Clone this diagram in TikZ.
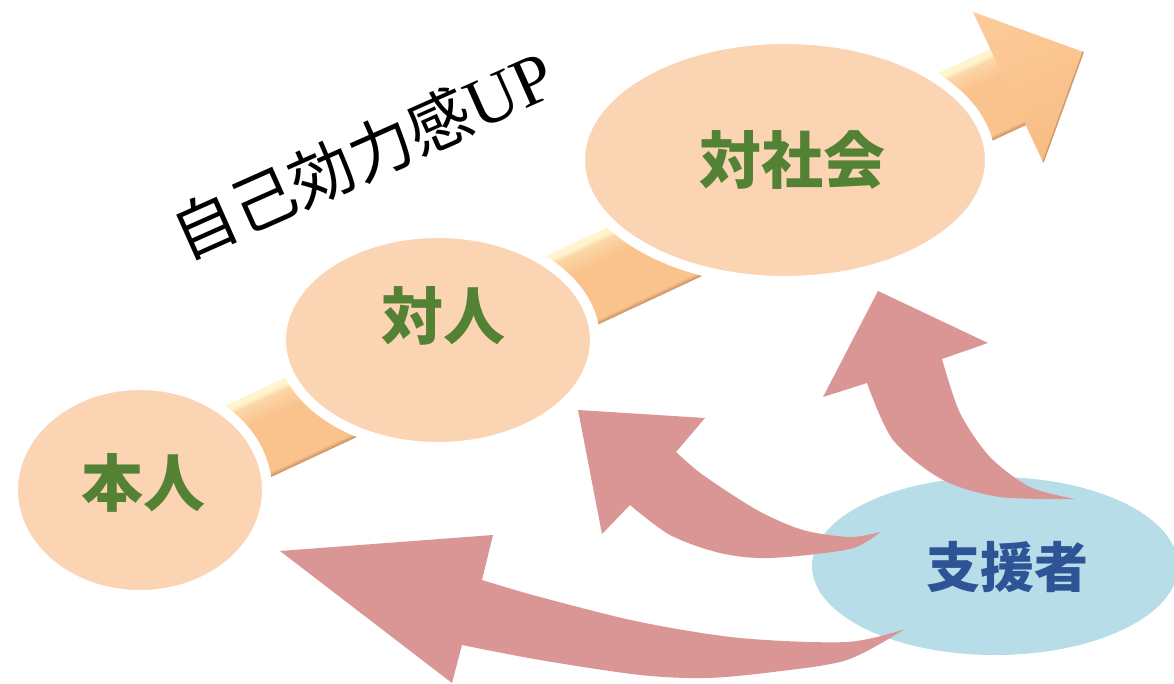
\documentclass[tikz,border=0pt]{standalone}
\usepackage{fontspec}
\newfontfamily\jp{Noto Sans CJK JP}
\newfontfamily\lser{Liberation Serif}
\usetikzlibrary{shapes.geometric}
\definecolor{peach}{HTML}{FBD4B4}
\definecolor{lblgreen}{HTML}{548235}
\definecolor{lblblue}{HTML}{2F5496}
\definecolor{suppblue}{HTML}{B7DDE8}
\definecolor{suppred}{HTML}{D99694}
\definecolor{bandDk}{HTML}{C08A5A}
\definecolor{bandMid}{HTML}{FAC38D}
\definecolor{bandLt}{HTML}{FCD6A6}
\definecolor{bandHi}{HTML}{FFF4CC}
\definecolor{headTop}{HTML}{FCCC9A}
\definecolor{headBot}{HTML}{F8BC84}
\pgfdeclareverticalshading{bandshade}{100bp}{color(0bp)=(bandDk); color(25bp)=(bandDk); color(28bp)=(bandMid); color(58bp)=(bandMid); color(69bp)=(bandLt); color(72bp)=(bandHi); color(75bp)=(bandHi); color(100bp)=(bandHi)}
\begin{document}
\begin{tikzpicture}[x=1pt,y=-1pt,
  peachell/.style={ellipse, fill=peach, draw=white, line width=10pt, inner sep=0pt},
  greenlbl/.style={text=lblgreen, font=\jp\bfseries\fontsize{62}{62}\selectfont, inner sep=0pt},
  bluelbl/.style={text=lblblue, font=\jp\bfseries\fontsize{54}{54}\selectfont, inner sep=0pt},
  supp/.style={fill=suppred},
]
\useasboundingbox (0,0) rectangle (1174,684);
\clip (0,0) rectangle (1174,684);
% big orange arrow
\begin{scope}[transform canvas={shift={(1008pt,-87pt)},rotate=25}]
  \shade[shading=bandshade] (-960pt,-42pt) rectangle (1pt,42pt);
  \shade[top color=headTop, bottom color=headBot] (0pt,83pt) -- (83pt,0pt) -- (0pt,-83pt) -- cycle;
  \draw[bandDk!70!bandMid, line width=1.5pt, line join=round] (0pt,-83pt) -- (83pt,0pt);
\end{scope}
% stage ellipses
\node[peachell, minimum width=254pt, minimum height=210pt] (honnin) at (140,490) {};
\node[peachell, minimum width=314pt, minimum height=214pt] (taijin) at (438,340) {};
\node[peachell, minimum width=410pt, minimum height=242pt] (taishakai) at (785,160) {};
\node[greenlbl] (lhonnin) at (143,483) {本人};
\node[greenlbl] (ltaijin) at (443,316) {対人};
\node[greenlbl] (ltaishakai) at (792,160) {対社会};
% title
\node[rotate=24, inner sep=0pt] (title) at (363,155) {\jp\fontsize{64}{64}\selectfont 自己効力感\lser\fontsize{70}{70}\selectfont UP};
% supporter
\node[ellipse, fill=suppblue, minimum width=366pt, minimum height=178pt, inner sep=0pt] (shien) at (995,566) {};
% red curved arrows
\fill[supp] (280,551) -- (493,535) -- (482,580)
  -- plot[smooth] coordinates {(482,580) (540,597) (640,622) (740,638) (847,642) (905,629)}
  -- plot[smooth] coordinates {(905,629) (847,660) (773,672) (707,678) (640,675) (540,660) (462,645)}
  -- (452,683) -- cycle;
\fill[supp] (578,410) -- (705,418) -- (676,452)
  -- plot[smooth] coordinates {(676,452) (703,475) (757,510) (803,530) (850,537) (880,532)}
  -- plot[smooth] coordinates {(880,532) (850,549) (770,558) (720,553) (670,535) (630,505)}
  -- (602,534) -- cycle;
\fill[supp] (878,291) -- (988,343) -- (942,359)
  -- plot[smooth] coordinates {(942,359) (960,413) (990,457) (1030,487) (1075,499)}
  -- plot[smooth] coordinates {(1075,499) (1000,497) (943,480) (893,440) (867,383)}
  -- (823,397) -- cycle;
\node[bluelbl] (lshien) at (1007,567) {支援者};
\end{tikzpicture}
\end{document}
